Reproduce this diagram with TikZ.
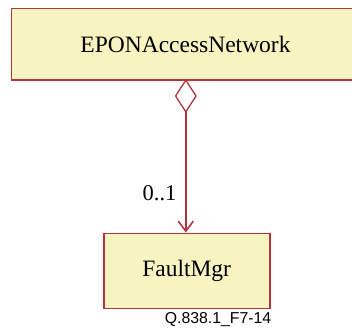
\documentclass[tikz,border=0pt]{standalone}
\usepackage{fontspec}
\setmainfont{Liberation Serif}
\newfontfamily\footfont{Liberation Sans}
\usetikzlibrary{arrows.meta}
\definecolor{boxfill}{HTML}{F8F4C2}
\definecolor{boxline}{HTML}{B3343C}
\begin{document}
\begin{tikzpicture}[x=1pt,y=-1pt,
  classbox/.style={draw=boxline, fill=boxfill, line width=1.7pt, inner sep=0pt, font=\fontsize{23.5}{26}\selectfont},
  assoc/.style={draw=boxline, line width=1.6pt,
    {Diamond[open, fill=white, length=34pt, width=22pt, line width=1.3pt]}-{Straight Barb[length=10pt, width=15pt, line width=1.6pt]}}]
\useasboundingbox (0,0) rectangle (352,327);
\clip (0,0) rectangle (352,327);
\node[classbox, minimum width=360pt, minimum height=71.5pt, anchor=north west] (net) at (10.7,7.5) {};
\node[font=\fontsize{23.5}{26}\selectfont] (netlabel) at (185.5,44) {EPONAccessNetwork};
\node[classbox, minimum width=166pt, minimum height=75pt, anchor=north west] (fm) at (102.8,232.5) {FaultMgr};
\coordinate (dtop) at (185.8,79);
\coordinate (ftop) at (185.8,232.5);
\draw[assoc] (dtop) -- (ftop);
\node[font=\fontsize{22.5}{24}\selectfont] (mult) at (159.5,193) {0..1};
\node[font=\footfont\fontsize{15.8}{17}\selectfont, anchor=base] (foot) at (218,323) {Q.838.1\_F7-14};
\end{tikzpicture}
\end{document}
